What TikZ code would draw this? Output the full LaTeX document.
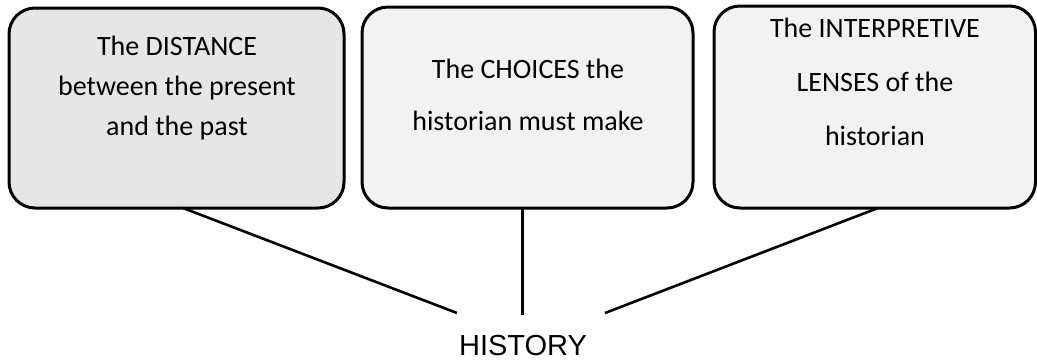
\documentclass[tikz,border=0pt]{standalone}
\usepackage{fontspec}
\setmainfont{Carlito}
\newfontfamily\labelfont{Liberation Sans}
\usetikzlibrary{calc}
\definecolor{boxgrayA}{HTML}{E6E6E6}
\definecolor{boxgrayB}{HTML}{F2F2F2}
\tikzset{
  factor/.style={draw=black, line width=3pt, rounded corners=26pt,
    inner sep=0pt, outer sep=0pt},
  factortext/.style={align=center, text=black, inner sep=0pt},
  link/.style={draw=black, line width=2.6pt},
}
\begin{document}
\begin{tikzpicture}[x=1pt, y=1pt]
  \useasboundingbox (0,0) rectangle (1037,-360);
  % the three factor boxes
  \node[factor, fill=boxgrayA, minimum width=335pt, minimum height=200pt] (b1) at (176.5,-108) {};
  \node[factor, fill=boxgrayB, minimum width=331pt, minimum height=201pt] (b2) at (527.5,-107.5) {};
  \node[factor, fill=boxgrayB, minimum width=321.5pt, minimum height=202pt] (b3) at (874.75,-107) {};
  % box texts
  \node[factortext, font=\fontsize{28}{40}\selectfont] (t1) at (177,-88)
    {The DISTANCE\\between the present\\and the past};
  \node[factortext, font=\fontsize{28}{52}\selectfont] (t2) at (528,-95)
    {The CHOICES the\\historian must make};
  \node[factortext, font=\fontsize{28}{54}\selectfont] (t3) at (875,-82)
    {The INTERPRETIVE\\LENSES of the\\historian};
  % central term
  \node[inner sep=0pt, font=\labelfont\fontsize{29}{34}\selectfont] (hist) at (523,-346) {HISTORY};
  % free ends of the connectors above the central term
  \coordinate (e1) at (457,-313);
  \coordinate (e2) at (522.5,-315);
  \coordinate (e3) at (605,-313);
  \draw[link] ($(b1.south west)+(174,0)$) -- (e1);
  \draw[link] ($(b2.south west)+(160.5,0)$) -- (e2);
  \draw[link] ($(b3.south west)+(164,0)$) -- (e3);
\end{tikzpicture}
\end{document}
